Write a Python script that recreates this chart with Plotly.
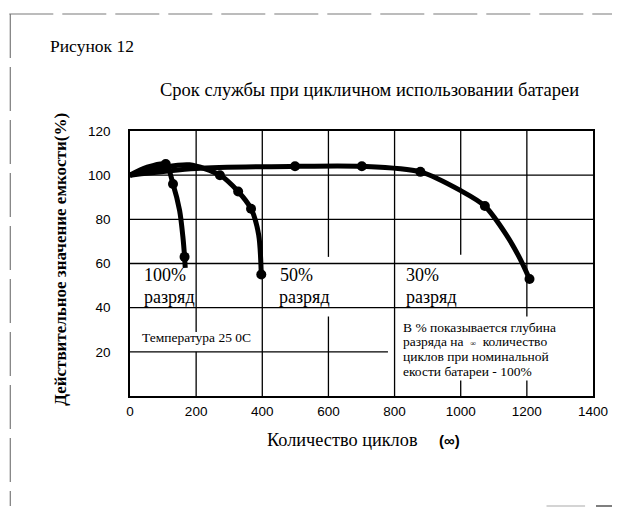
import plotly.graph_objects as go

# ---- data ----
cycles_100 = [0, 50, 108, 130, 150, 160, 165, 167]
capacity_100 = [100, 103.5, 105, 96, 84, 72, 63, 58]
dots_100_x = [108, 130, 165]
dots_100_y = [105, 96, 63]

cycles_50 = [0, 100, 180, 272, 327, 366, 389, 397]
capacity_50 = [100, 103.5, 104.7, 100, 92.6, 84.8, 73, 55]
dots_50_x = [272, 327, 366, 397]
dots_50_y = [100, 92.6, 84.8, 55]

cycles_30 = [0, 200, 499, 701, 878, 1000, 1073, 1138, 1180, 1208]
capacity_30 = [100, 103, 104, 104, 101.5, 93, 86, 73, 62, 53]
dots_30_x = [499, 701, 878, 1073, 1208]
dots_30_y = [104, 104, 101.5, 86, 53]

x_ticks = [0, 200, 400, 600, 800, 1000, 1200, 1400]
y_ticks = [20, 40, 60, 80, 100, 120]

# grid segments (value, start, end)
v_grid = [(200, 120, 29), (200, 20, 0), (400, 120, 0), (600, 120, 63), (600, 36, 0),
          (800, 120, 0), (1000, 120, 64), (1000, 7, 0), (1200, 120, 36), (1200, 7, 0)]
h_grid = [(100, 0, 1400), (80, 0, 1400), (60, 0, 1400), (40, 0, 1400), (20, 0, 780)]

# ---- layout geometry (page pixels; the page body adds an 8px offset) ----
OFF = 8
W, H = 620 - OFF, 508 - OFF
L, R, T, B = 130, 598, 131, 396          # plot area in page pixels
PW, PH = R - L, B - T


def px(x):
    return (x - L) / PW


def py(y):
    return (B - y) / PH


SERIF = "Liberation Serif, Times New Roman, serif"
SANS = "Liberation Sans, Arial, sans-serif"

fig = go.Figure()

line_style = dict(color="black", width=5, shape="spline", smoothing=0.8)
dot_style = dict(color="black", size=10)
for cx, cy, dx, dy in [(cycles_100, capacity_100, dots_100_x, dots_100_y),
                       (cycles_50, capacity_50, dots_50_x, dots_50_y),
                       (cycles_30, capacity_30, dots_30_x, dots_30_y)]:
    fig.add_trace(go.Scatter(x=cx, y=cy, mode="lines", line=line_style,
                             showlegend=False, hoverinfo="skip"))
    fig.add_trace(go.Scatter(x=dx, y=dy, mode="markers", marker=dot_style,
                             showlegend=False))

shapes = []
for xv, y0, y1 in v_grid:
    shapes.append(dict(type="line", xref="x", yref="y", x0=xv, x1=xv, y0=y0, y1=y1,
                       line=dict(color="black", width=1.3), layer="below"))
for yv, x0, x1 in h_grid:
    shapes.append(dict(type="line", xref="x", yref="y", x0=x0, x1=x1, y0=yv, y1=yv,
                       line=dict(color="black", width=1.3), layer="below"))

# page frame
frame = dict(color="#7a7a7a", width=1.2, dash="44px,9px")
shapes.append(dict(type="line", xref="paper", yref="paper", x0=px(8), x1=px(620),
                   y0=py(14), y1=py(14), line=frame))
shapes.append(dict(type="line", xref="paper", yref="paper", x0=px(9), x1=px(9),
                   y0=py(14), y1=py(506), line=frame))
shapes.append(dict(type="line", xref="paper", yref="paper", x0=px(551), x1=px(590),
                   y0=py(506), y1=py(506), line=dict(color="#aaaaaa", width=1.2)))
shapes.append(dict(type="line", xref="paper", yref="paper", x0=px(601), x1=px(620),
                   y0=py(506), y1=py(506), line=dict(color="#555555", width=1.5)))

ann = []


def text(x, y, s, size, font=SERIF, xanchor="left", **kw):
    ann.append(dict(xref="paper", yref="paper", x=px(x), y=py(y), text=s,
                    showarrow=False, xanchor=xanchor, yanchor="middle",
                    font=dict(family=font, size=size, color="black"), **kw))


text(47, 46, "Рисунок 12", 17.5)
text(158, 90, "Срок службы при цикличном использовании батареи", 18.5)
text(142, 275, "100%", 18)
text(142, 297, "разряд", 18)
text(280, 275, "50%", 18)
text(279, 297, "разряд", 18)
text(407, 275, "30%", 18)
text(407, 297, "разряд", 18)
text(140, 337, "Температура 25 0С", 13.5)
text(404, 327, "В % показывается глубина", 13.5)
text(404, 341, "разряда на &nbsp;<span style='font-size:8px'>∞</span>&nbsp; количество", 13.5)
text(404, 356, "циклов при номинальной", 13.5)
text(404, 371, "екости батареи - 100%", 13.5)
text(266, 440, "Количество циклов", 18.3)
text(440, 440, "<b>(∞)</b>", 15, font=SANS)
ann.append(dict(xref="paper", yref="paper", x=px(59), y=py(259),
                text="<b>Действительное значение емкости(%)</b>", textangle=-90,
                showarrow=False, xanchor="center", yanchor="middle",
                font=dict(family=SERIF, size=17, color="black")))

fig.update_layout(
    width=W, height=H,
    margin=dict(l=L - OFF, r=620 - R, t=T - OFF, b=508 - B, pad=0),
    paper_bgcolor="white", plot_bgcolor="white",
    shapes=shapes, annotations=ann,
    xaxis=dict(range=[0, 1400], tickvals=x_ticks, ticktext=[str(v) for v in x_ticks],
               showgrid=False, zeroline=False, showline=True, linecolor="black",
               linewidth=1.5, mirror=True, ticks="", ticklabelstandoff=2,
               tickfont=dict(family=SANS, size=13.5, color="black")),
    yaxis=dict(range=[0, 120], tickvals=y_ticks, ticktext=[str(v) for v in y_ticks],
               showgrid=False, zeroline=False, showline=True, linecolor="black",
               linewidth=1.5, mirror=True, ticks="", ticklabelstandoff=15,
               tickfont=dict(family=SANS, size=13.5, color="black")),
)

fig.write_html("out.html")
